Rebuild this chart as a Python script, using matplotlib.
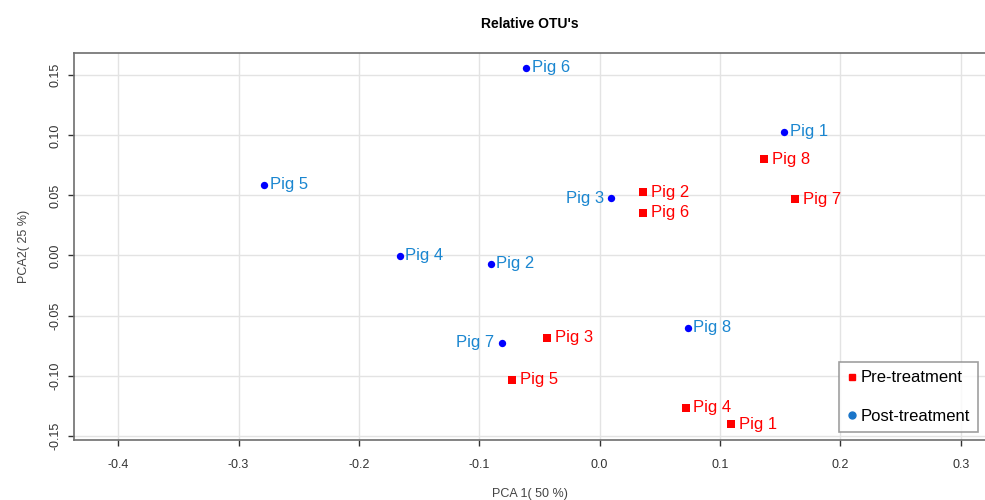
import matplotlib
matplotlib.use("Agg")
from matplotlib import pyplot as plt
from matplotlib.lines import Line2D

plt.rcParams['font.family'] = ['Liberation Sans', 'DejaVu Sans']

# post-treatment (blue circles)
post_labels = ["Pig 1", "Pig 2", "Pig 3", "Pig 4", "Pig 5", "Pig 6", "Pig 7", "Pig 8"]
post_x = [0.1532, -0.0906, 0.0091, -0.1663, -0.2785, -0.0609, -0.0815, 0.0732]
post_y = [0.1029, -0.0067, 0.0477, -0.0003, 0.0591, 0.1565, -0.0728, -0.0603]
post_left = ["Pig 3", "Pig 7"]  # labels placed on the left of the point

# pre-treatment (red squares)
pre_labels = ["Pig 1", "Pig 2", "Pig 3", "Pig 4", "Pig 5", "Pig 6", "Pig 7", "Pig 8"]
pre_x = [0.1095, 0.0363, -0.0438, 0.0715, -0.0726, 0.0363, 0.1626, 0.1366]
pre_y = [-0.1405, 0.0525, -0.0686, -0.1269, -0.1033, 0.0355, 0.0469, 0.0802]

x_ticks = [-0.4, -0.3, -0.2, -0.1, 0.0, 0.1, 0.2, 0.3]
y_ticks = [-0.15, -0.10, -0.05, 0.00, 0.05, 0.10, 0.15]

fig = plt.figure(figsize=(9.85, 5.0), dpi=100)
ax = fig.add_axes([0.0751, 0.121, 0.9249, 0.773])

ax.scatter(post_x, post_y, marker='o', s=28, color='#0000ff', zorder=3, linewidths=0)
ax.scatter(pre_x, pre_y, marker='s', s=30, color='#ff0000', zorder=3, linewidths=0)

for lab, x, y in zip(post_labels, post_x, post_y):
    if lab in post_left:
        ax.annotate(lab, (x, y), xytext=(-5, 0), textcoords='offset points',
                    ha='right', va='center', color='#1a86d0', fontsize=12)
    else:
        ax.annotate(lab, (x, y), xytext=(4, 0), textcoords='offset points',
                    ha='left', va='center', color='#1a86d0', fontsize=12)
for lab, x, y in zip(pre_labels, pre_x, pre_y):
    ax.annotate(lab, (x, y), xytext=(5.5, 0), textcoords='offset points',
                ha='left', va='center', color='#ff0000', fontsize=12)

ax.set_xlim(-0.4368, 0.3202)
ax.set_ylim(-0.1532, 0.1686)
ax.set_xticks(x_ticks)
ax.set_xticklabels(["%.1f" % v for v in x_ticks])
ax.set_yticks(y_ticks)
ax.set_yticklabels(["%.2f" % v for v in y_ticks], rotation=90, va='center')
ax.tick_params(labelsize=9, colors='#333333', length=4, width=1, pad=5)
ax.tick_params(axis='x', pad=10)
ax.grid(True, color='#e3e3e3', linewidth=1)
ax.set_axisbelow(True)
for s in ['left', 'bottom', 'top']:
    ax.spines[s].set_color('#6e6e6e')
    ax.spines[s].set_linewidth(1.2)
ax.spines['right'].set_visible(False)

ax.set_xlabel("PCA 1( 50 %)", fontsize=9, color='#444444', labelpad=12)
ax.set_ylabel("PCA2( 25 %)", fontsize=9, color='#444444', labelpad=14)
fig.text(0.538, 0.951, "Relative OTU's", ha='center', va='center',
         fontsize=10, fontweight='bold')

handles = [
    Line2D([], [], marker='s', linestyle='none', color='#ff0000', markersize=5),
    Line2D([], [], marker='o', linestyle='none', color='#1a75c9', markersize=5),
]
leg = ax.legend(handles, ["Pre-treatment", "Post-treatment"], loc='lower left',
                bbox_to_anchor=(0.8397, 0.0194), fontsize=12, frameon=True,
                fancybox=False, handlelength=0.6, handletextpad=0.2,
                labelspacing=1.4, borderpad=0.5, borderaxespad=0)
leg.get_frame().set_edgecolor('#888888')
leg.get_frame().set_linewidth(1.2)

fig.savefig("out.png", dpi=100)
